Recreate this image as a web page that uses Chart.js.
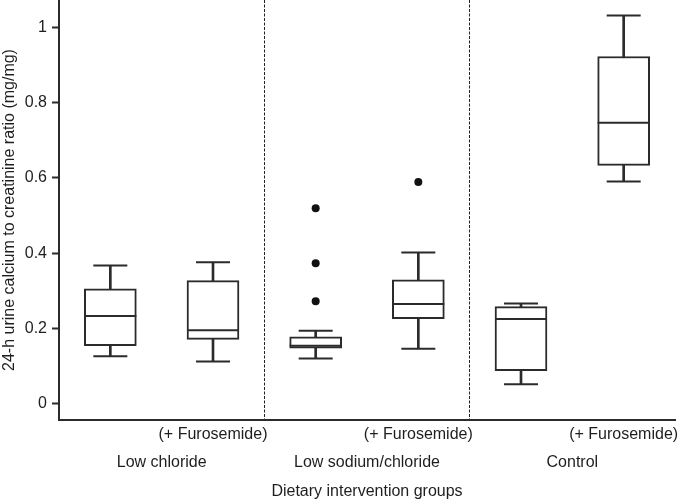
<!DOCTYPE html>
<html lang="en">
<head>
  <meta charset="UTF-8">
  <title>24-h urine calcium to creatinine ratio</title>
  <style>
    body { margin: 0; background: #fff; }
    .chart-box { width: 685px; height: 501px; }
  </style>
  <script src="https://cdn.jsdelivr.net/npm/chart.js"></script>
</head>
<body>
  <div class="chart-box">
    <canvas id="box-chart"></canvas>
  </div>
  <script>
    // Data
    const categories = ['LC', 'LC+F', 'LSC', 'LSC+F', 'C', 'C+F'];
    const tickLabels = ['', '(+ Furosemide)', '', '(+ Furosemide)', '', '(+ Furosemide)'];
    const groups = ['Low chloride', 'Low sodium/chloride', 'Control'];
    const yTicks = [0, 0.2, 0.4, 0.6, 0.8, 1];

    const whiskerLow = [0.126, 0.112, 0.120, 0.146, 0.052, 0.590];
    const q1 = [0.154, 0.171, 0.148, 0.226, 0.088, 0.633];
    const median = [0.233, 0.195, 0.154, 0.265, 0.225, 0.746];
    const q3 = [0.305, 0.327, 0.178, 0.329, 0.258, 0.922];
    const whiskerHigh = [0.367, 0.376, 0.194, 0.402, 0.266, 1.031];

    // outliers: which box they belong to, and their value
    const outlierBox = ['LSC', 'LSC', 'LSC', 'LSC+F'];
    const outlierValue = [0.519, 0.373, 0.272, 0.589];

    const ink = '#2b2b2b';
    const font = { family: "'Liberation Sans', Arial, sans-serif", size: 16 };

    new Chart(document.getElementById('box-chart'), {
      data: {
        labels: categories,
        datasets: [
          {
            // whisker stems, drawn behind the boxes
            type: 'bar',
            data: whiskerLow.map((v, i) => [v, whiskerHigh[i]]),
            backgroundColor: ink,
            borderWidth: 0,
            barThickness: 2,
            grouped: false,
            order: 3
          },
          {
            type: 'bar',
            data: q1.map((v, i) => [v, q3[i]]),
            backgroundColor: '#fff',
            borderColor: ink,
            borderWidth: 2,
            borderSkipped: false,
            barThickness: 52,
            grouped: false,
            order: 2
          },
          {
            type: 'line',
            data: median,
            showLine: false,
            pointStyle: 'line',
            pointRadius: 26,
            pointBorderWidth: 2,
            pointBorderColor: ink,
            order: 1
          },
          {
            type: 'line',
            data: whiskerHigh,
            showLine: false,
            pointStyle: 'line',
            pointRadius: 17,
            pointBorderWidth: 2,
            pointBorderColor: ink,
            order: 1
          },
          {
            type: 'line',
            data: whiskerLow,
            showLine: false,
            pointStyle: 'line',
            pointRadius: 17,
            pointBorderWidth: 2,
            pointBorderColor: ink,
            order: 1
          },
          {
            type: 'line',
            data: outlierBox.map((x, i) => ({ x: x, y: outlierValue[i] })),
            showLine: false,
            pointRadius: 4,
            pointBackgroundColor: '#111',
            pointBorderWidth: 0,
            order: 0
          }
        ]
      },
      options: {
        responsive: true,
        maintainAspectRatio: false,
        animation: false,
        events: [],
        layout: { autoPadding: false, padding: { top: 0, right: 10, left: 0, bottom: 0 } },
        plugins: {
          legend: { display: false },
          tooltip: { enabled: false }
        },
        scales: {
          x: {
            type: 'category',
            position: 'bottom',
            offset: true,
            grid: {
              offset: true,
              drawTicks: false,
              lineWidth: 1,
              color: ctx => (ctx.index === 2 || ctx.index === 4) ? '#222' : 'transparent'
            },
            border: { display: true, color: ink, width: 2, dash: [3, 1.5] },
            ticks: {
              color: '#1e1e1e',
              font: font,
              padding: 5,
              maxRotation: 0,
              autoSkip: false,
              callback: (v, i) => tickLabels[i]
            },
            afterFit: scale => {
              scale.height = 29;
              scale.paddingLeft = 0;
              scale.paddingRight = 0;
            }
          },
          x2: {
            type: 'category',
            position: 'bottom',
            labels: groups,
            offset: true,
            grid: { display: false, drawTicks: false },
            border: { display: false },
            ticks: { color: '#1e1e1e', font: font, padding: 4, maxRotation: 0, autoSkip: false },
            title: {
              display: true,
              text: 'Dietary intervention groups',
              color: '#1e1e1e',
              font: font,
              padding: { top: 4, bottom: 0 }
            },
            afterFit: scale => {
              scale.height = 52;
              scale.paddingLeft = 0;
              scale.paddingRight = 0;
            }
          },
          y: {
            type: 'linear',
            min: -0.043,
            max: 1.072,
            afterBuildTicks: scale => { scale.ticks = yTicks.map(v => ({ value: v })); },
            grid: {
              drawOnChartArea: false,
              drawTicks: true,
              tickLength: 7,
              tickColor: ink,
              tickWidth: 2
            },
            border: { display: true, color: ink, width: 2 },
            ticks: {
              color: '#1e1e1e',
              font: font,
              padding: 5,
              callback: v => String(v)
            },
            title: {
              display: true,
              text: '24-h urine calcium to creatinine ratio (mg/mg)',
              color: '#1e1e1e',
              font: font,
              padding: { top: 0, bottom: 0 }
            },
            afterFit: scale => {
              scale.width = 59;
              scale.paddingTop = 0;
              scale.paddingBottom = 0;
            }
          }
        }
      }
    });
  </script>
</body>
</html>
